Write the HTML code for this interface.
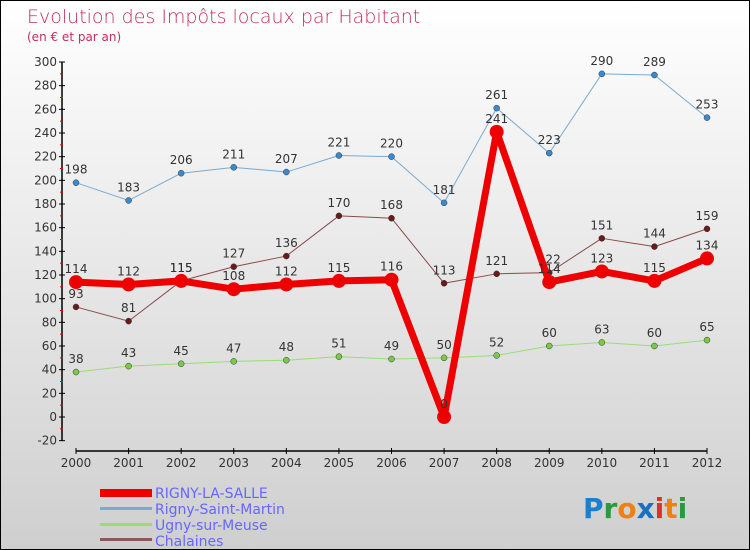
<!DOCTYPE html>
<html><head><meta charset="utf-8"><style>
html,body{margin:0;padding:0}
body{width:750px;height:550px;overflow:hidden;font-family:"DejaVu Sans","Liberation Sans",sans-serif}
#wrap{position:relative;width:748px;height:548px;border:1px solid #000;background:linear-gradient(#ffffff,#cfcfcf)}
</style></head><body>
<div id="wrap">
<svg id="chart" width="748" height="548" style="position:absolute;left:0;top:0">
<text x="26" y="22" font-size="19" fill="#c0305a" font-family="DejaVu Sans, sans-serif" font-weight="200">Evolution des Impôts locaux par Habitant</text>
<text x="26" y="40" font-size="12" fill="#c0305a">(en € et par an)</text>
<g id="axes"></g><g id="series"></g>
<g>
<rect x="99" y="488" width="52" height="8" fill="#ee0000"/>
<text x="154" y="497" font-size="14" fill="#6666ff">RIGNY-LA-SALLE</text>
<rect x="99" y="506" width="52" height="3" fill="#7aaad0"/>
<text x="154" y="513" font-size="14" fill="#6666ff">Rigny-Saint-Martin</text>
<rect x="99" y="522" width="52" height="3" fill="#99dd77"/>
<text x="154" y="529" font-size="14" fill="#6666ff">Ugny-sur-Meuse</text>
<rect x="99" y="537" width="52" height="3" fill="#8a5a5a"/>
<text x="154" y="545" font-size="14" fill="#6666ff">Chalaines</text>
</g>
<text x="582" y="517" font-size="28" font-weight="bold" font-family="DejaVu Sans, sans-serif"><tspan fill="#1a7fd0">P</tspan><tspan fill="#2a9a3a">r</tspan><tspan fill="#f08010">o</tspan><tspan fill="#1a70c0">x</tspan><tspan fill="#e03020">i</tspan><tspan fill="#f08010">t</tspan><tspan fill="#2a9a3a">i</tspan></text>
</svg>
</div>
<script>
const years=[2000,2001,2002,2003,2004,2005,2006,2007,2008,2009,2010,2011,2012];
const rignySalle=[114,112,115,108,112,115,116,0,241,114,123,115,134];
const rignyStMartin=[198,183,206,211,207,221,220,181,261,223,290,289,253];
const ugny=[38,43,45,47,48,51,49,50,52,60,63,60,65];
const chalaines=[93,81,115,127,136,170,168,113,121,122,151,144,159];
const yTicks=[-20,0,20,40,60,80,100,120,140,160,180,200,220,240,260,280,300];
const NS="http://www.w3.org/2000/svg";
function xs(i){return 75+i*(706-75)/12;}
function ys(v){return 416-v*(416-61)/300;}
function mk(tag,attrs,parent){const e=document.createElementNS(NS,tag);for(const k in attrs)e.setAttribute(k,attrs[k]);parent.appendChild(e);return e;}
const ax=document.getElementById('axes'),sg=document.getElementById('series');
let l=mk('line',{x1:61,y1:ys(300),x2:61,y2:ys(-20),stroke:'#000','stroke-width':1.5},ax);


yTicks.forEach(v=>{
 let t=mk('line',{x1:58,x2:64,y1:ys(v),y2:ys(v),stroke:'#000'},ax);
 
 
 let tx=mk('text',{x:56,y:ys(v)+4,'font-size':12,'text-anchor':'end',fill:'#333'},ax);tx.textContent=v;
 
 
 if(v<300){let m=mk('line',{x1:59,x2:62,y1:ys(v+10),y2:ys(v+10),stroke:'#e00'},ax);
 
 }
});
l=mk('line',{x1:75,y1:450,x2:706,y2:450,stroke:'#000','stroke-width':1.5},ax);


years.forEach((y,i)=>{
 let t=mk('line',{x1:xs(i),x2:xs(i),y1:447,y2:453,stroke:'#000'},ax);
 
 
 let tx=mk('text',{x:xs(i),y:466,'font-size':12,'text-anchor':'middle',fill:'#333'},ax);tx.textContent=y;
 
 
});
function series(data,name,color,dot,w,r,labelCol){
 const g=mk('g',{},sg);
 
 
 const p=mk('polyline',{points:data.map((v,i)=>xs(i)+','+ys(v)).join(' '),fill:'none',stroke:color,'stroke-width':w,'stroke-linejoin':'round'},g);
 
 
 data.forEach((v,i)=>{
  const c=mk('circle',{cx:xs(i),cy:ys(v),r:r,fill:dot,stroke:w>3?'none':'#333','stroke-width':0.5},g);
  
  
  const t=mk('text',{x:xs(i),y:ys(v)-9,'font-size':12,'text-anchor':'middle',fill:'#333'},g);t.textContent=v;
  
  
 });
}
series(rignyStMartin,'rigny-saint-martin','#7aaad0','#3a8ad0',1,3);
series(chalaines,'chalaines','#8a4a4a','#6a1a1a',1,3);
series(ugny,'ugny-sur-meuse','#99dd77','#77cc44',1,3);
series(rignySalle,'rigny-la-salle','#ee0000','#ee0000',7,7);
</script>
</body></html>
